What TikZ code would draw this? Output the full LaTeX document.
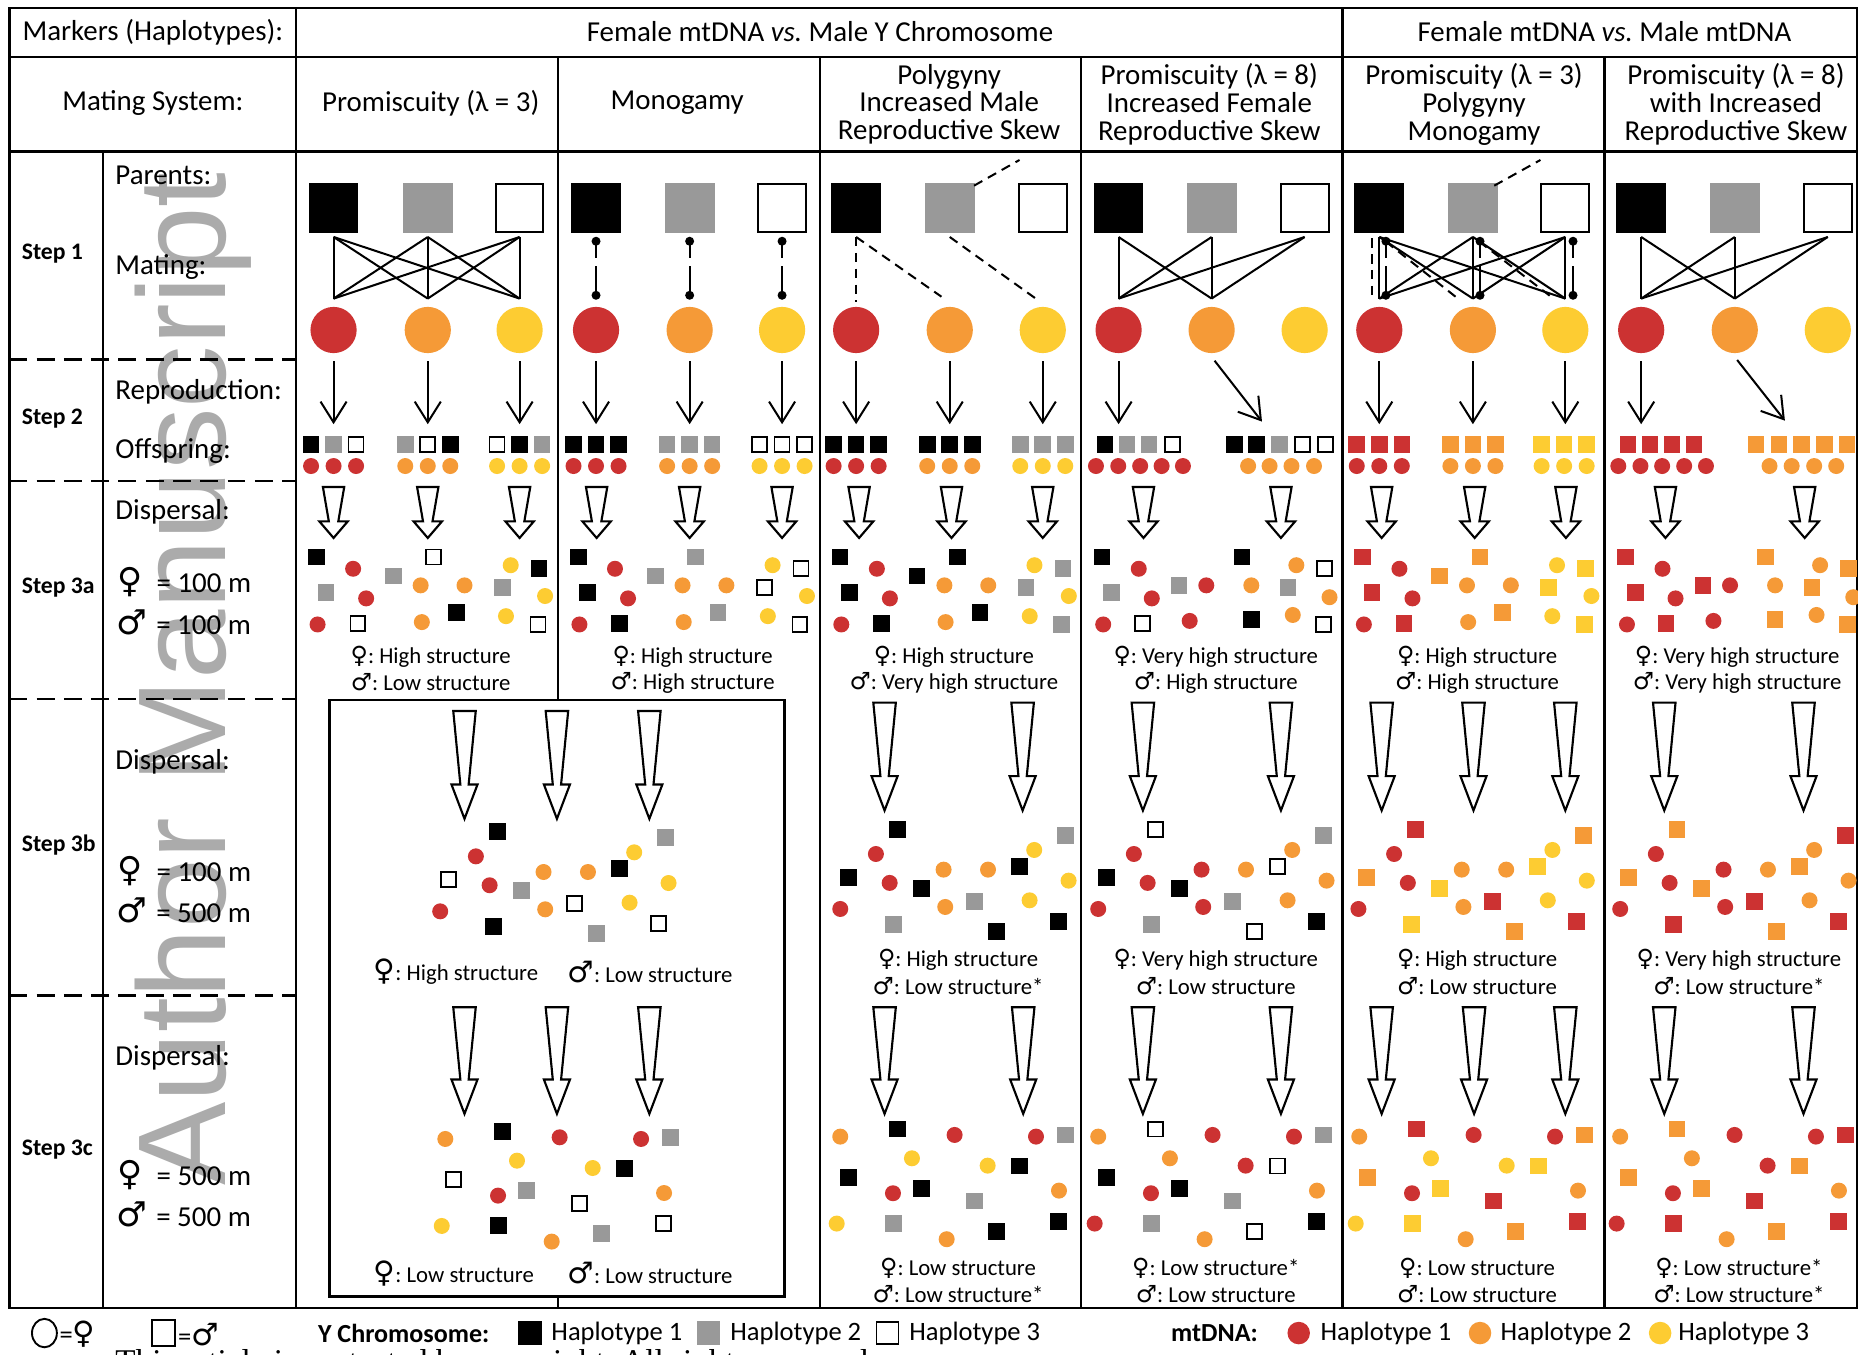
\documentclass[tikz,border=0pt]{standalone}
\usepackage{fontspec}
\setmainfont{Carlito}
\newfontfamily\symf{DejaVu Sans}
\newfontfamily\wmf{Liberation Sans}
\newfontfamily\serf{Liberation Serif}
\usetikzlibrary{arrows.meta,shapes.geometric}
\frenchspacing
\definecolor{hred}{HTML}{CC3232}
\definecolor{hor}{HTML}{F59A37}
\definecolor{hyel}{HTML}{FDCC32}
\definecolor{hgray}{HTML}{999999}
\definecolor{wmgray}{HTML}{ABABAB}
\newcommand\femsym[1][10]{{\symf\fontsize{#1}{#1}\selectfont ♀}}
\newcommand\malsym[1][10]{{\symf\fontsize{#1}{#1}\selectfont ♂}}
\tikzset{
 tline/.style={line width=1pt},
 dline/.style={line width=1pt,dash pattern=on 7.5pt off 4pt},
 mline/.style={line width=0.85pt},
 pdash/.style={line width=0.85pt,dash pattern=on 4pt off 2.7pt},
 mono/.style={line width=0.85pt,dash pattern=on 7pt off 3.5pt on 14pt off 0pt},
 thinarr/.style={line width=0.85pt,-{Straight Barb[length=8.75pt,width=11pt]}},
 barrow/.style={line width=0.9pt,fill=white,line join=miter},
 bigB/.style={rectangle,fill=black,minimum size=21pt,inner sep=0pt},
 bigG/.style={rectangle,fill=hgray,minimum size=21pt,inner sep=0pt},
 bigW/.style={rectangle,fill=white,draw=black,line width=0.85pt,minimum size=20.15pt,inner sep=0pt},
 bigR/.style={circle,fill=hred,minimum size=19.5pt,inner sep=0pt},
 bigO/.style={circle,fill=hor,minimum size=19.5pt,inner sep=0pt},
 bigY/.style={circle,fill=hyel,minimum size=19.5pt,inner sep=0pt},
 sB/.style={rectangle,fill=black,minimum size=7pt,inner sep=0pt},
 sG/.style={rectangle,fill=hgray,minimum size=7pt,inner sep=0pt},
 sW/.style={rectangle,fill=white,draw=black,line width=0.7pt,minimum size=6.3pt,inner sep=0pt},
 sR/.style={rectangle,fill=hred,minimum size=7pt,inner sep=0pt},
 sO/.style={rectangle,fill=hor,minimum size=7pt,inner sep=0pt},
 sY/.style={rectangle,fill=hyel,minimum size=7pt,inner sep=0pt},
 cR/.style={circle,fill=hred,minimum size=6.75pt,inner sep=0pt},
 cO/.style={circle,fill=hor,minimum size=6.75pt,inner sep=0pt},
 cY/.style={circle,fill=hyel,minimum size=6.75pt,inner sep=0pt},
 hdr/.style={inner sep=0pt,font=\fontsize{12.2}{14}\selectfont},
 hdrt/.style={inner sep=0pt,align=center,font=\fontsize{12.2}{11.75}\selectfont},
 lbl/.style={inner sep=0pt,anchor=west,font=\fontsize{12.2}{14}\selectfont},
 stp/.style={inner sep=0pt,anchor=west,font=\bfseries\fontsize{10}{12}\selectfont},
 res/.style={inner sep=0pt,font=\fontsize{9.6}{11}\selectfont},
 leg/.style={inner sep=0pt,anchor=west,font=\fontsize{11.2}{13}\selectfont},
 legb/.style={inner sep=0pt,anchor=west,font=\bfseries\fontsize{11}{13}\selectfont},
}
\def\PA{17/470,48/480,25/500,59/505,18/527,52/526,116/470,82/486,105/494,142/494,135/517,106/525,181/477,205/480,174/496,210/503,177/520,204/527}
\def\PB{18/470,49/480,26/500,83/494,60/505,106/494,19/527,52/526,92/524,136/470,182/477,206/480,144/494,175/496,210/504,144/523,179/519,205/527}
\def\PC{65.2/699.8,47.2/720.7,23.9/740.4,58.8/745.1,85.5/749.7,17.1/767.1,61.9/780.0,104.3/733.9,141.8/733.9,130.2/760.6,105.7/765.4,148.8/785.9,180.8/717.3,207/704.9,168.2/731.1,209.8/743.2,176.9/759.8,201.1/777.5}
\def\PD{17.1/959.2,65.2/952.9,77.6/977.5,23.9/993.5,61.6/1007.0,85.5/1002.8,14.1/1032.6,61.9/1032.3,113.6/957.8,141.5/983.7,130.2/1013.5,106.9/1045.8,148.8/1039.1,182.3/959.2,207/957.8,168.2/984,201.7/1004.8,201.1/1030.7}
\def\popcol#1,#2\end{\gdef\curcol{#1}\gdef\restcol{#2}}
\newcommand\scat[4]{\gdef\restcol{#4,}\foreach \dx/\dy in #3 {\expandafter\popcol\restcol\end\node[\curcol] at ({#1+\dx},{#2+\dy}) {};}}
\newcommand\barr[7]{\draw[barrow] ({#1-#5/2},#2) -- ({#1+#5/2},#2) -- ({#1+#6/2},#3) -- ({#1+#7/2},#3) -- (#1,#4) -- ({#1-#7/2},#3) -- ({#1-#6/2},#3) -- cycle;}
\newcommand\arrA[1]{\barr{#1}{411}{440}{454}{18}{8}{24}}
\newcommand\arrB[1]{\barr{#1}{593}{655}{684}{19}{7}{22}}
\newcommand\arrBb[1]{\barr{#1}{600}{662}{691}{19}{7}{22}}
\newcommand\arrC[1]{\barr{#1}{850}{911}{940}{19}{7}{22}}
\newcommand\parents[4]{%
 \node[bigB] (#1m1) at (#2,175.4) {};
 \node[bigG] (#1m2) at (#3,175.4) {};
 \node[bigW] (#1m3) at (#4,175.4) {};
 \node[bigR] (#1f1) at (#2,278.5) {};
 \node[bigO] (#1f2) at (#3,278.5) {};
 \node[bigY] (#1f3) at (#4,278.5) {};
 \coordinate (#1t1) at (#2,200); \coordinate (#1t2) at (#3,200); \coordinate (#1t3) at (#4,200);
 \coordinate (#1b1) at (#2,252); \coordinate (#1b2) at (#3,252); \coordinate (#1b3) at (#4,252);
 \coordinate (#1a1) at (#2,305); \coordinate (#1a2) at (#3,305); \coordinate (#1a3) at (#4,305);
 \coordinate (#1e1) at (#2,358); \coordinate (#1e2) at (#3,358); \coordinate (#1e3) at (#4,358);
}
\newcommand\monoline[2]{%
 \coordinate (#1u) at (#2,203.6); \coordinate (#1d) at (#2,249.2);
 \draw[mono] (#1u) -- (#1d);
 \fill (#1u) circle (1.9pt); \fill (#1d) circle (1.9pt);
}
\begin{document}
\begin{tikzpicture}[x=0.5pt,y=-0.5pt]
\useasboundingbox (0,0) rectangle (1568,1143);
\fill[white] (0,0) rectangle (1568,1143);
\node[rotate=90,anchor=base west,inner sep=0pt,text=wmgray,font=\wmf\fontsize{52.7}{60}\selectfont] (wm) at (190,1001) {Author Manuscript};
% table
\draw[tline] (8,7) rectangle (1567,1104);
\draw[tline] (8,48) -- (1567,48);
\draw[tline] (8,128) -- (1567,128);
\draw[tline] (250,7) -- (250,1104);
\draw[tline] (1133,7) -- (1133,1104);
\draw[tline] (471,48) -- (471,591);
\draw[tline] (471,1094) -- (471,1104);
\foreach \xx in {692,912,1354} \draw[tline] (\xx,48) -- (\xx,1104);
\draw[tline] (87,128) -- (87,1104);
\draw[tline] (278,591) rectangle (662,1094);
\foreach \yy in {303.5,406,590,840} \draw[dline] (8,\yy) -- (250,\yy);
% header texts
\node[hdr] (h1) at (129,27) {Markers (Haplotypes):};
\node[hdr] (h2) at (692,27) {Female mtDNA \textit{vs.} Male Y Chromosome};
\node[hdr] (h3) at (1354,27) {Female mtDNA \textit{vs.} Male mtDNA};
\node[hdr] (h4) at (129,87) {Mating System:};
\node[hdr] (c1) at (363.5,87) {Promiscuity (λ = 3)};
\node[hdr] (c2) at (571.5,87) {Monogamy};
\node[hdrt] (c3) at (801,88) {Polygyny\\Increased Male\\Reproductive Skew};
\node[hdrt] (c4) at (1020.5,88) {Promiscuity (λ = 8)\\Increased Female\\Reproductive Skew};
\node[hdrt] (c5) at (1244,88) {Promiscuity (λ = 3)\\Polygyny\\Monogamy};
\node[hdrt] (c6) at (1465,88) {Promiscuity (λ = 8)\\with Increased\\Reproductive Skew};
% left labels
\node[stp] (s1) at (18,214) {Step 1};
\node[stp] (s2) at (18,353) {Step 2};
\node[stp] (s3) at (18,496) {Step 3a};
\node[stp] (s4) at (18,713) {Step 3b};
\node[stp] (s5) at (18,970) {Step 3c};
\node[lbl] (l1) at (97,148) {Parents:};
\node[lbl] (l2) at (97,225) {Mating:};
\node[lbl] (l3) at (97,331) {Reproduction:};
\node[lbl] (l4) at (97,381) {Offspring:};
\node[lbl] (l5) at (97,432) {Dispersal:};
\node[lbl] (l6) at (97,643) {Dispersal:};
\node[lbl] (l7) at (97,893) {Dispersal:};
\node[lbl] (d1) at (99,491) {\femsym[14.5]\hspace{3pt} = 100 m};
\node[lbl] (d2) at (98,525) {\malsym[14.5]\hspace{1pt} = 100 m};
\node[lbl] (d3) at (99,735) {\femsym[14.5]\hspace{3pt} = 100 m};
\node[lbl] (d4) at (98,768) {\malsym[14.5]\hspace{1pt} = 500 m};
\node[lbl] (d5) at (99,992) {\femsym[14.5]\hspace{3pt} = 500 m};
\node[lbl] (d6) at (98,1025) {\malsym[14.5]\hspace{1pt} = 500 m};
% ---------- Step 1 ----------
\parents{A}{281.5}{361}{438.5}
\parents{B}{503}{582}{660}
\parents{C}{722.5}{801.5}{880}
\parents{D}{944}{1022.5}{1101}
\parents{E}{1164}{1243}{1321}
\parents{F}{1385}{1464}{1542.5}
\foreach \p in {1,2,3} \foreach \q in {1,2,3} \draw[mline] (At\p) -- (Ab\q);
\monoline{BMa}{503}\monoline{BMb}{582}\monoline{BMc}{660}
\coordinate (Cx1) at (794.5,250.4); \coordinate (Cx2) at (873.7,251.7);
\coordinate (Cz1) at (822,156.7); \coordinate (Cz2) at (860.4,135);
\coordinate (Cy1) at (722.5,254.6);
\draw[pdash] (Ct1) -- (Cy1);
\draw[pdash] (Ct1) -- (Cx1);
\draw[pdash] (Ct2) -- (Cx2);
\draw[pdash] (Cz1) -- (Cz2);
\foreach \p in {1,2,3} \foreach \q in {1,2} \draw[mline] (Dt\p) -- (Db\q);
\foreach \p in {1,2,3} \foreach \q in {1,2,3} \draw[mline] (Et\p) -- (Eb\q);
\coordinate (Ev1) at (1158,201); \coordinate (Ev2) at (1158,249.5);
\coordinate (Ew1) at (1169.5,203.9); \coordinate (Ew2) at (1230,251.7);
\coordinate (Ex1) at (1248.3,203.9); \coordinate (Ex2) at (1308.8,250.3);
\coordinate (Ez1) at (1261,156.7); \coordinate (Ez2) at (1300,135);
\draw[pdash] (Ev1) -- (Ev2);
\draw[pdash] (Ew1) -- (Ew2);
\draw[pdash] (Ex1) -- (Ex2);
\draw[pdash] (Ez1) -- (Ez2);
\monoline{EMa}{1169.6}\monoline{EMb}{1249}\monoline{EMc}{1327.5}
\foreach \p in {1,2,3} \foreach \q in {1,2} \draw[mline] (Ft\p) -- (Fb\q);
% ---------- Step 2 ----------
\foreach \c in {A,B,C,E} \foreach \p in {1,2,3} \draw[thinarr] (\c a\p) -- (\c e\p);
\draw[thinarr] (Da1) -- (De1);
\coordinate (Dg1) at (1025,304.4); \coordinate (Dg2) at (1065,355.8);
\draw[thinarr] (Dg1) -- (Dg2);
\draw[thinarr] (Fa1) -- (Fe1);
\coordinate (Fg1) at (1466,303.8); \coordinate (Fg2) at (1506.3,355);
\draw[thinarr] (Fg1) -- (Fg2);
\foreach \xx/\cc in {262.5/sB,281.5/sG,300.5/sW,342/sG,361/sW,380/sB,419.5/sW,438.5/sB,457.5/sG,
 484/sB,503/sB,522/sB,563/sG,582/sG,601/sG,641/sW,660/sW,679/sW,
 703.5/sB,722.5/sB,741.5/sB,782.5/sB,801.5/sB,820.5/sB,861/sG,880/sG,899/sG,
 932.4/sB,951.2/sG,969.7/sG,989.3/sW,1041.7/sB,1060.5/sB,1079.7/sG,1099/sW,1118.6/sW,
 1145/sR,1164/sR,1183/sR,1224/sO,1243/sO,1262/sO,1301/sY,1320/sY,1339/sY,
 1373.8/sR,1392.3/sR,1410.9/sR,1429.5/sR,1482/sO,1501.2/sO,1520.4/sO,1539.6/sO,1558.8/sO}
 \node[\cc] at (\xx,375) {};
\foreach \xx/\cc in {262.5/cR,281.5/cR,300.5/cR,342/cO,361/cO,380/cO,419.5/cY,438.5/cY,457.5/cY,
 484/cR,503/cR,522/cR,563/cO,582/cO,601/cO,641/cY,660/cY,679/cY,
 703.5/cR,722.5/cR,741.5/cR,782.5/cO,801.5/cO,820.5/cO,861/cY,880/cY,899/cY,
 924.9/cR,943.7/cR,962.2/cR,980.3/cR,998.3/cR,1053.3/cO,1071.4/cO,1089.9/cO,1108.9/cO,
 1145/cR,1164/cR,1183/cR,1224/cO,1243/cO,1262/cO,1301/cY,1320/cY,1339/cY,
 1365.7/cR,1384.4/cR,1402.7/cR,1421.3/cR,1439.7/cR,1493.3/cO,1512/cO,1531/cO,1549.6/cO}
 \node[\cc] at (\xx,393.3) {};
% ---------- Step 3a ----------
\foreach \xx in {281.5,361,438.5,503.5,582,660,725,803,880,965,1081,1166,1244.5,1321.5,1405.5,1523} {\arrA{\xx}}
\scat{250}{0}{\PA}{sB,cR,sG,cR,cR,sW,sW,sG,cO,cO,sB,cO,cY,sB,sG,cY,cY,sW}
\scat{471}{0}{\PA}{sB,cR,sB,cR,cR,sB,sG,sG,cO,cO,sG,cO,cY,sW,sW,cY,cY,sW}
\scat{692}{0}{\PA}{sB,cR,sB,cR,cR,sB,sB,sB,cO,cO,sB,cO,cY,sG,sG,cY,cY,sG}
\scat{1133}{0}{\PA}{sR,cR,sR,cR,cR,sR,sO,sO,cO,cO,sO,cO,cY,sY,sY,cY,cY,sY}
\scat{912}{0}{\PB}{sB,cR,sG,sG,cR,cR,cR,sW,cR,sB,cO,sW,cO,sG,cO,sB,cO,sW}
\scat{1354}{0}{\PB}{sR,cR,sR,sR,cR,cR,cR,sR,cR,sO,cO,sO,cO,sO,cO,sO,cO,sO}
\node[res] (r1a) at (363.5,554) {\femsym: High structure};
\node[res] (r1b) at (363.5,576) {\malsym: Low structure};
\node[res] (r2a) at (584.5,554) {\femsym: High structure};
\node[res] (r2b) at (584.5,576) {\malsym: High structure};
\node[res] (r3a) at (805,554) {\femsym: High structure};
\node[res] (r3b) at (805,576) {\malsym: Very high structure};
\node[res] (r4a) at (1026,554) {\femsym: Very high structure};
\node[res] (r4b) at (1026,576) {\malsym: High structure};
\node[res] (r5a) at (1246.5,554) {\femsym: High structure};
\node[res] (r5b) at (1246.5,576) {\malsym: High structure};
\node[res] (r6a) at (1466,554) {\femsym: Very high structure};
\node[res] (r6b) at (1466,576) {\malsym: Very high structure};
% ---------- Step 3b ----------
\foreach \xx in {392,470,548} {\arrBb{\xx}}
\foreach \xx in {746.5,863,964.5,1081,1166,1243.5,1321,1404.5,1522} {\arrB{\xx}}
\scat{354.4}{2}{\PC}{sB,cR,sW,cR,sG,cR,sB,cO,cO,sW,cO,sG,cY,sG,sB,cY,cY,sW}
\scat{692}{0}{\PC}{sB,cR,sB,cR,sB,cR,sG,cO,cO,sG,cO,sB,cY,sG,sB,cY,cY,sB}
\scat{909.7}{0}{\PC}{sW,cR,sB,cR,sB,cR,sG,cR,cO,sG,cR,sW,cO,sG,sW,cO,cO,sB}
\scat{1129.3}{0}{\PC}{sR,cR,sO,cR,sY,cR,sY,cO,cO,sR,cO,sO,cY,sO,sY,cY,cY,sR}
\scat{1350.2}{0}{\PC}{sO,cR,sO,cR,sO,cR,sR,cR,cO,sR,cR,sO,cO,sR,sO,cO,cO,sR}
\node[res,anchor=west] (b1) at (315,820) {\femsym[12.5]: High structure};
\node[res,anchor=west] (b2) at (478.5,820) {\malsym[12.5]: Low structure};
\node[res] (q3a) at (808.5,809.6) {\femsym: High structure};
\node[res] (q3b) at (808.5,832) {\malsym: Low structure*};
\node[res] (q4a) at (1026,809.6) {\femsym: Very high structure};
\node[res] (q4b) at (1026,832) {\malsym: Low structure};
\node[res] (q5a) at (1246.5,809.6) {\femsym: High structure};
\node[res] (q5b) at (1246.5,832) {\malsym: Low structure};
\node[res] (q6a) at (1467.5,809.6) {\femsym: Very high structure};
\node[res] (q6b) at (1467.5,832) {\malsym: Low structure*};
% ---------- Step 3c ----------
\foreach \xx in {392,470,548,746.5,863.5,964.5,1081,1166,1244,1321,1404.5,1522} {\arrC{\xx}}
\scat{358.7}{2}{\PD}{cO,sB,cY,sW,cR,sG,cY,sB,cR,cY,sW,cO,sG,cR,sG,sB,cO,sW}
\scat{692}{0}{\PD}{cO,sB,cY,sB,cR,sB,cY,sG,cR,cY,sG,cO,sB,cR,sG,sB,cO,sB}
\scat{909.7}{0}{\PD}{cO,sW,cO,sB,cR,sB,cR,sG,cR,cR,sG,cO,sW,cR,sG,sW,cO,sB}
\scat{1130}{0}{\PD}{cO,sR,cY,sO,cR,sY,cY,sY,cR,cY,sR,cO,sO,cR,sO,sY,cO,sR}
\scat{1350.2}{0}{\PD}{cO,sO,cO,sO,cR,sO,cR,sR,cR,cR,sR,cO,sO,cR,sR,sO,cO,sR}
\node[res,anchor=west] (b3) at (315,1075) {\femsym[12.5]: Low structure};
\node[res,anchor=west] (b4) at (478.5,1074) {\malsym[12.5]: Low structure};
\node[res] (p3a) at (808.5,1070) {\femsym: Low structure};
\node[res] (p3b) at (808.5,1092) {\malsym: Low structure*};
\node[res] (p4a) at (1026,1070) {\femsym: Low structure*};
\node[res] (p4b) at (1026,1092) {\malsym: Low structure};
\node[res] (p5a) at (1246.5,1070) {\femsym: Low structure};
\node[res] (p5b) at (1246.5,1092) {\malsym: Low structure};
\node[res] (p6a) at (1467.5,1070) {\femsym: Low structure*};
\node[res] (p6b) at (1467.5,1092) {\malsym: Low structure*};
% ---------- legend ----------
\node[ellipse,draw,line width=0.8pt,minimum width=10.5pt,minimum height=12pt,inner sep=0pt] (lg1) at (37.5,1125) {};
\node[leg] (lg1t) at (50,1126) {=\femsym[13]};
\node[rectangle,draw,line width=0.8pt,minimum width=10pt,minimum height=11pt,inner sep=0pt] (lg2) at (138,1125) {};
\node[leg] (lg2t) at (150,1126) {=\malsym[13]};
\node[legb] (lgy) at (268,1125) {Y Chromosome:};
\node[rectangle,fill=black,minimum size=10pt,inner sep=0pt] (ly1) at (447,1125) {};
\node[leg] (ly1t) at (465,1125) {Haplotype 1};
\node[rectangle,fill=hgray,minimum size=10pt,inner sep=0pt] (ly2) at (598,1125) {};
\node[leg] (ly2t) at (616,1125) {Haplotype 2};
\node[rectangle,fill=white,draw,line width=0.7pt,minimum size=9.3pt,inner sep=0pt] (ly3) at (749,1125) {};
\node[leg] (ly3t) at (767,1125) {Haplotype 3};
\node[legb] (lgm) at (988,1125) {mtDNA:};
\node[circle,fill=hred,minimum size=9.5pt,inner sep=0pt] (lm1) at (1096,1125) {};
\node[leg] (lm1t) at (1114,1125) {Haplotype 1};
\node[circle,fill=hor,minimum size=9.5pt,inner sep=0pt] (lm2) at (1249,1125) {};
\node[leg] (lm2t) at (1266,1125) {Haplotype 2};
\node[circle,fill=hyel,minimum size=9.5pt,inner sep=0pt] (lm3) at (1401,1125) {};
\node[leg] (lm3t) at (1416,1125) {Haplotype 3};
\node[anchor=base west,inner sep=0pt,font=\serf\fontsize{14}{16}\selectfont] (cpr) at (97,1158) {This article is protected by copyright. All rights reserved.};
\end{tikzpicture}
\end{document}
